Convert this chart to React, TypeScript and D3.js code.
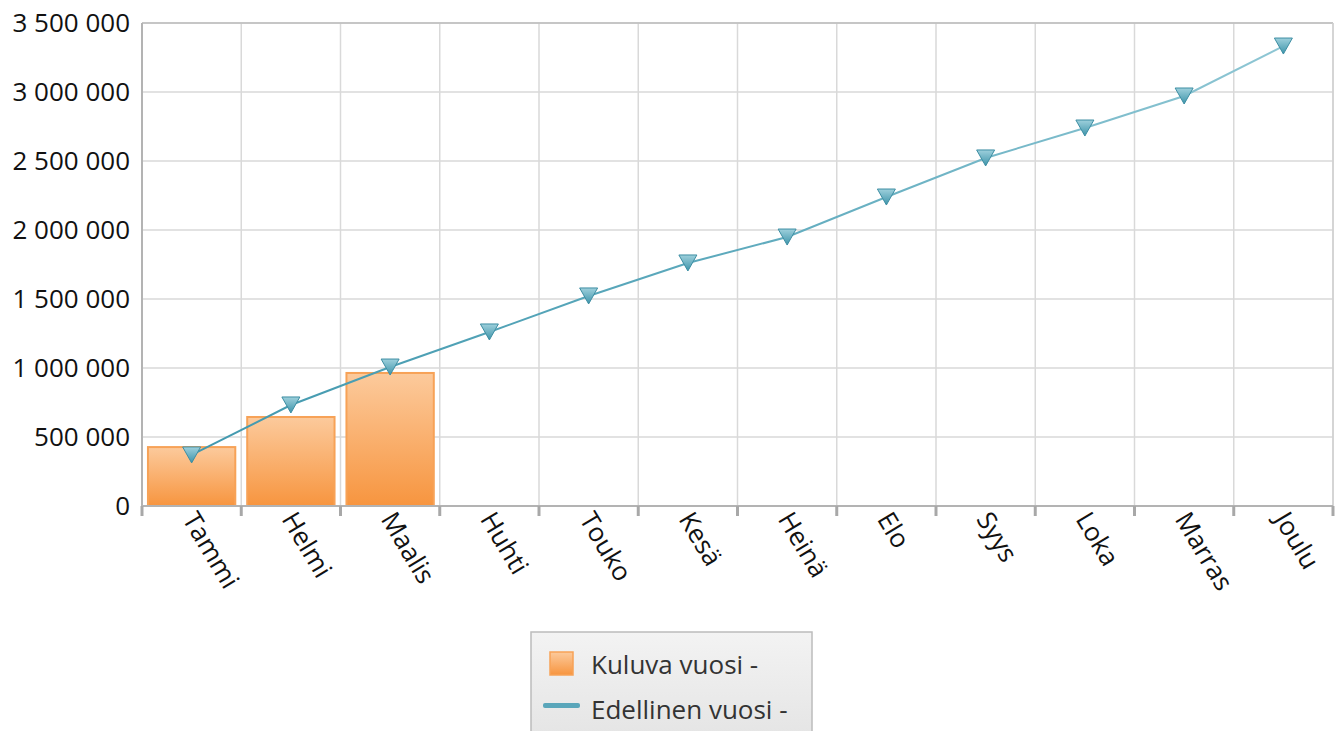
import React from 'react';
import * as d3 from 'd3';

const months = ['Tammi', 'Helmi', 'Maalis', 'Huhti', 'Touko', 'Kesä', 'Heinä', 'Elo', 'Syys', 'Loka', 'Marras', 'Joulu'];
const currentYear = [427000, 645000, 964000];
const previousYear = [370000, 732000, 1007000, 1261000, 1522000, 1761000, 1949000, 2239000, 2522000, 2739000, 2971000, 3333000];
const yTicks = [0, 500000, 1000000, 1500000, 2000000, 2500000, 3000000, 3500000];
const legendLabels = ['Kuluva vuosi -', 'Edellinen vuosi -'];

const width = 1344;
const height = 731;
const margin = { top: 23, right: 11, bottom: 225, left: 142 };
const font = "'Open Sans', 'Noto Sans', sans-serif";

const fmt = (v: number) => d3.format(',')(v).replace(/,/g, ' ');

const App = () => {
  const x = d3.scaleBand().domain(months).range([margin.left, width - margin.right]).paddingInner(0.12).paddingOuter(0.06);
  const xOuter = d3.scaleBand().domain(months).range([margin.left, width - margin.right]);
  const y = d3.scaleLinear().domain([0, 3500000]).range([height - margin.bottom, margin.top]);
  const bottom = y(0);
  const line = d3.line<number>().x((_, i) => xOuter(months[i])! + xOuter.bandwidth() / 2).y(d => y(d));
  const boundaries = months.map(m => xOuter(m)!).concat([width - margin.right]);

  return (
    <svg width={width} height={height} style={{ position: 'absolute', left: 0, top: 0, background: '#fff' }}>
      <defs>
        <linearGradient id="barGrad" x1="0" y1="0" x2="0" y2="1">
          <stop offset="0" stopColor="#fcca9c" />
          <stop offset="1" stopColor="#f7953f" />
        </linearGradient>
        <linearGradient id="lineGrad" gradientUnits="userSpaceOnUse" x1={margin.left} y1="0" x2={width - margin.right} y2="0">
          <stop offset="0" stopColor="#3f97ad" />
          <stop offset="0.5" stopColor="#5eaabd" />
          <stop offset="1" stopColor="#93c9d6" />
        </linearGradient>
        <linearGradient id="markGrad" x1="0" y1="0" x2="0" y2="1">
          <stop offset="0" stopColor="#9ed0dc" />
          <stop offset="1" stopColor="#3d94aa" />
        </linearGradient>
        <linearGradient id="legendGrad" x1="0" y1="0" x2="0" y2="1">
          <stop offset="0" stopColor="#f3f3f3" />
          <stop offset="1" stopColor="#e4e4e4" />
        </linearGradient>
      </defs>

      {/* grid */}
      {yTicks.map(t => (
        <line key={t} x1={margin.left} x2={width - margin.right} y1={y(t)} y2={y(t)} stroke="#d9d9d9" strokeWidth={1.5} />
      ))}
      {boundaries.map((b, i) => (
        <line key={i} x1={b} x2={b} y1={margin.top} y2={bottom} stroke="#d9d9d9" strokeWidth={1.5} />
      ))}
      <line x1={margin.left} x2={width - margin.right} y1={margin.top} y2={margin.top} stroke="#bdbdbd" strokeWidth={1.5} />
      <line x1={width - margin.right} x2={width - margin.right} y1={margin.top} y2={bottom} stroke="#d0d0d0" strokeWidth={1.5} />

      {/* bars */}
      {currentYear.map((v, i) => (
        <rect key={i} x={x(months[i])} y={y(v)} width={x.bandwidth()} height={bottom - y(v)}
          fill="url(#barGrad)" stroke="#f7a257" strokeWidth={2} />
      ))}

      {/* axes */}
      <line x1={margin.left} x2={margin.left} y1={margin.top} y2={bottom} stroke="#b3b3b3" strokeWidth={2} />
      <line x1={margin.left} x2={width - margin.right} y1={bottom} y2={bottom} stroke="#b3b3b3" strokeWidth={2} />
      {boundaries.map((b, i) => (
        <line key={i} x1={b} x2={b} y1={bottom} y2={bottom + 10} stroke="#a8a8a8" strokeWidth={3} />
      ))}
      {yTicks.map(t => (
        <text key={t} x={130} y={y(t)} dy="0.35em" textAnchor="end" fontFamily={font} fontSize={26} fill="#111">{fmt(t)}</text>
      ))}
      {months.map(m => {
        const cx = xOuter(m)! + xOuter.bandwidth() / 2 - 10;
        return (
          <text key={m} transform={`translate(${cx},${bottom + 13}) rotate(59)`} fontFamily={font} fontSize={26} fill="#111">{m}</text>
        );
      })}

      {/* line */}
      <path d={line(previousYear)!} fill="none" stroke="url(#lineGrad)" strokeWidth={2} />
      {previousYear.map((v, i) => {
        const cx = xOuter(months[i])! + xOuter.bandwidth() / 2;
        const cy = y(v);
        return (
          <path key={i} d={`M${cx - 9},${cy - 8} L${cx + 9},${cy - 8} L${cx},${cy + 8} Z`}
            fill="url(#markGrad)" stroke="#3d8ea3" strokeWidth={1} />
        );
      })}

      {/* legend */}
      <rect x={531} y={632} width={281} height={110} fill="url(#legendGrad)" stroke="#bcbcbc" strokeWidth={1.5} />
      <rect x={550} y={652} width={23} height={23} fill="url(#barGrad)" stroke="#f7a257" strokeWidth={1.5} />
      <text x={591} y={674} fontFamily={font} fontSize={26} fill="#333">{legendLabels[0]}</text>
      <rect x={543} y={703} width={37} height={5} rx={2} fill="#5aa6ba" />
      <text x={591} y={719} fontFamily={font} fontSize={26} fill="#333">{legendLabels[1]}</text>
    </svg>
  );
};

export default App;
